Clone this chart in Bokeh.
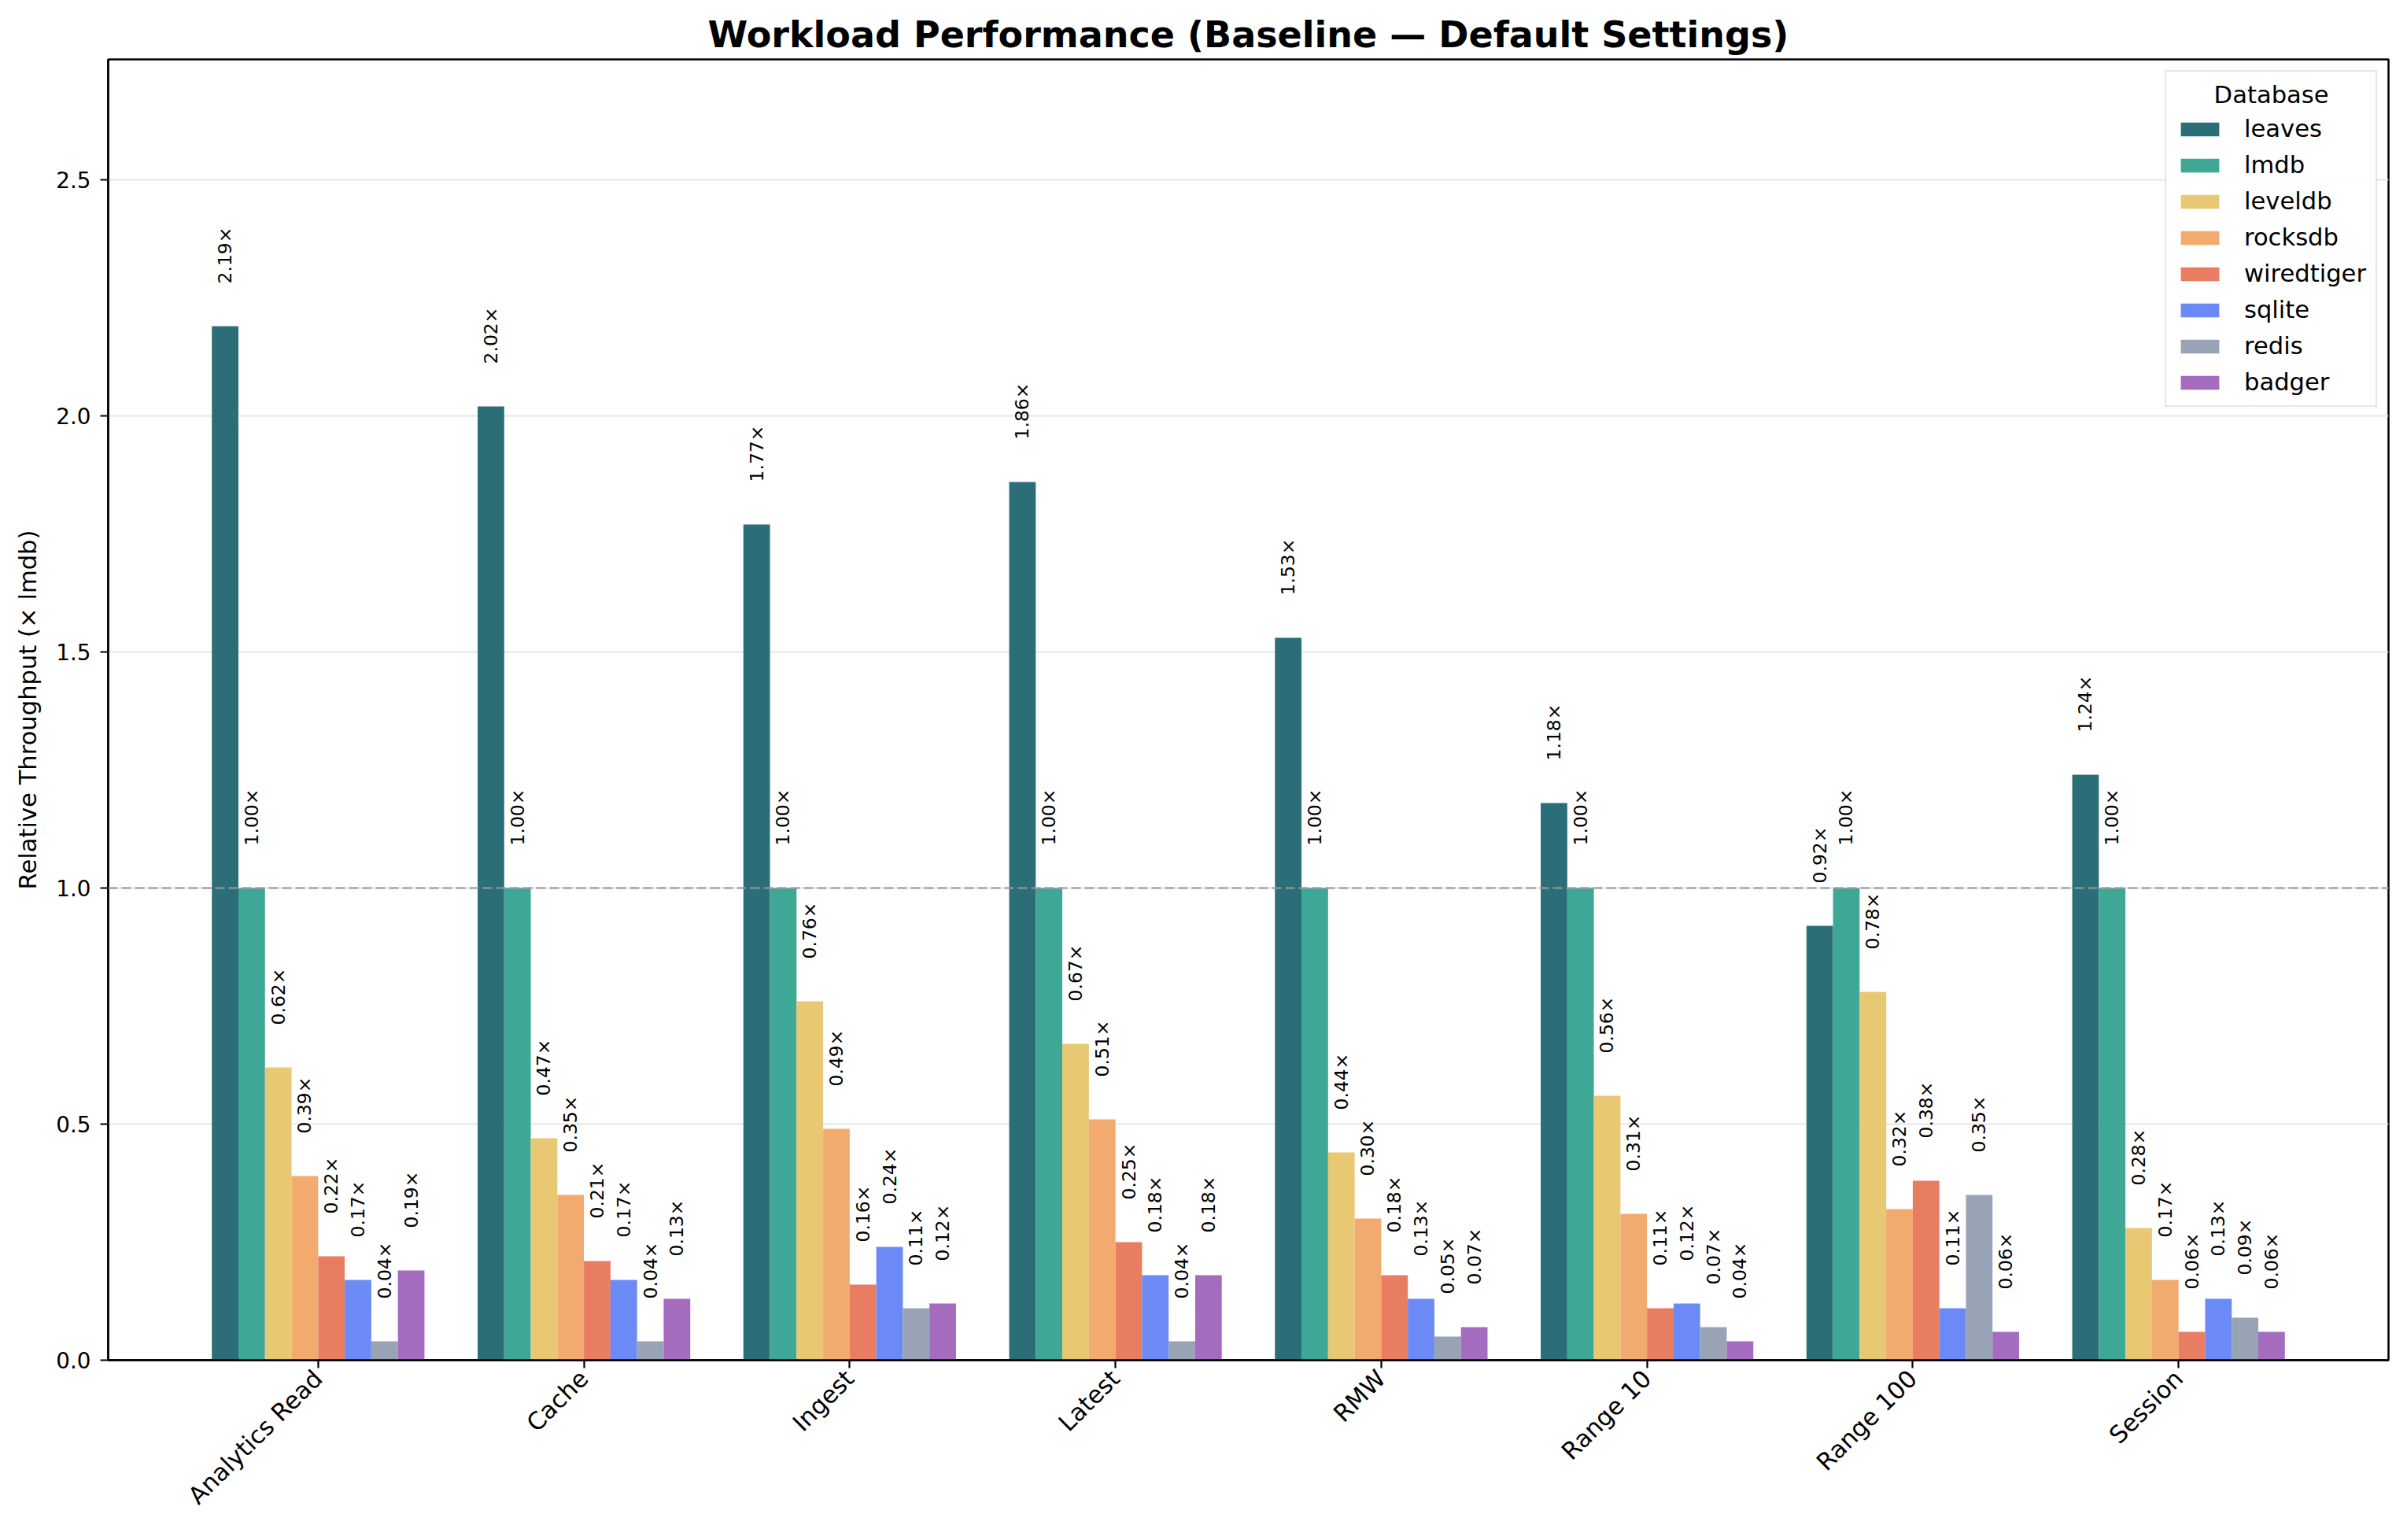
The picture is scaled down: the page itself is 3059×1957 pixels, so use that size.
import numpy as np
from bokeh.plotting import figure
from bokeh.models import ColumnDataSource, FixedTicker, PrintfTickFormatter, Span, Range1d
from bokeh.core.properties import value
from bokeh.embed import file_html
from bokeh.resources import INLINE

workloads = ["Analytics Read", "Cache", "Ingest", "Latest", "RMW", "Range 10", "Range 100", "Session"]
databases = ["leaves", "lmdb", "leveldb", "rocksdb", "wiredtiger", "sqlite", "redis", "badger"]

leaves = [2.19, 2.02, 1.77, 1.86, 1.53, 1.18, 0.92, 1.24]
lmdb = [1.00, 1.00, 1.00, 1.00, 1.00, 1.00, 1.00, 1.00]
leveldb = [0.62, 0.47, 0.76, 0.67, 0.44, 0.56, 0.78, 0.28]
rocksdb = [0.39, 0.35, 0.49, 0.51, 0.30, 0.31, 0.32, 0.17]
wiredtiger = [0.22, 0.21, 0.16, 0.25, 0.18, 0.11, 0.38, 0.06]
sqlite = [0.17, 0.17, 0.24, 0.18, 0.13, 0.12, 0.11, 0.13]
redis = [0.04, 0.04, 0.11, 0.04, 0.05, 0.07, 0.35, 0.09]
badger = [0.19, 0.13, 0.12, 0.18, 0.07, 0.04, 0.06, 0.06]

series = [leaves, lmdb, leveldb, rocksdb, wiredtiger, sqlite, redis, badger]
colors = ["#2c6e77", "#3ea796", "#e9c874", "#f2aa6f", "#e87d62", "#6b8af6", "#98a4b5", "#a46bbe"]

y_ticks = [0.0, 0.5, 1.0, 1.5, 2.0, 2.5]

FONT = "DejaVu Sans"
BAR_W = 0.1
n = len(databases)

p = figure(width=3043, height=1941, output_backend="svg", toolbar_location=None,
           x_range=Range1d(-0.79, 7.79), y_range=Range1d(0, 2.755),
           min_border_left=137, min_border_right=8, min_border_top=75, min_border_bottom=213,
           title="Workload Performance (Baseline \u2014 Default Settings)")

for j, (db, vals, col) in enumerate(zip(databases, series, colors)):
    xs = [i + (j - (n - 1) / 2) * BAR_W for i in range(len(workloads))]
    src = ColumnDataSource(dict(x=xs, top=vals,
                                ly=[v + 0.09 for v in vals],
                                txt=[f"{v:.2f}\u00d7" for v in vals]))
    p.vbar(x="x", top="top", bottom=0, width=BAR_W, source=src,
           fill_color=col, line_color=None, legend_label=db)
    p.text(x="x", y="ly", text="txt", source=src, angle=np.pi / 2,
           text_align="left", text_baseline="middle",
           text_font=value(FONT), text_font_size=value("23.5px"), text_color="black")

p.add_layout(Span(location=1.0, dimension="width", line_color="#999999",
                  line_dash="12 5", line_width=2.5, line_alpha=0.85))

# title
p.title.align = "center"
p.title.text_font = FONT
p.title.text_font_size = "46px"
p.title.text_font_style = "bold"
p.title.text_color = "black"
p.title.standoff = 10

# axes
p.xaxis.ticker = FixedTicker(ticks=list(range(len(workloads))))
p.xaxis.major_label_overrides = {i: w for i, w in enumerate(workloads)}
p.xaxis.major_label_orientation = np.pi / 4
p.yaxis.ticker = FixedTicker(ticks=y_ticks)
p.yaxis.formatter = PrintfTickFormatter(format="%.1f")
p.yaxis.axis_label = "Relative Throughput (\u00d7 lmdb)"
p.yaxis.axis_label_text_font = FONT
p.yaxis.axis_label_text_font_size = "30.6px"
p.yaxis.axis_label_text_font_style = "normal"
p.yaxis.axis_label_text_color = "black"
p.yaxis.axis_label_standoff = 15

for ax in (p.xaxis, p.yaxis):
    ax.major_label_text_font = FONT
    ax.major_label_text_color = "black"
    ax.major_label_standoff = 12
    ax.major_tick_out = 10
    ax.major_tick_in = 0
    ax.major_tick_line_width = 2.2
    ax.major_tick_line_color = "black"
    ax.minor_tick_line_color = None
    ax.axis_line_color = "black"
    ax.axis_line_width = 2.5
p.yaxis.major_label_text_font_size = "27.8px"
p.xaxis.major_label_text_font_size = "30.6px"
p.xaxis.major_label_standoff = 8

p.outline_line_color = "black"
p.outline_line_width = 2.5
p.xgrid.grid_line_color = None
p.ygrid.grid_line_color = "#e6e6e6"
p.ygrid.grid_line_width = 2
p.background_fill_color = "white"
p.border_fill_color = "white"

# legend
lg = p.legend[0]
lg.title = "\u00a0\u00a0\u00a0\u00a0\u00a0Database"
lg.location = "top_right"
lg.margin = 14
lg.padding = 12
lg.spacing = 11
lg.glyph_width = 61
lg.glyph_height = 22
lg.label_standoff = 26
lg.label_text_font = FONT
lg.label_text_font_size = "30.6px"
lg.label_text_color = "black"
lg.title_text_font = FONT
lg.title_text_font_size = "30.6px"
lg.title_text_font_style = "normal"
lg.title_text_color = "black"
lg.title_standoff = 8
lg.border_line_color = "#cccccc"
lg.border_line_width = 2
lg.background_fill_alpha = 0.8

open("out.html", "w").write(file_html(p, INLINE))
